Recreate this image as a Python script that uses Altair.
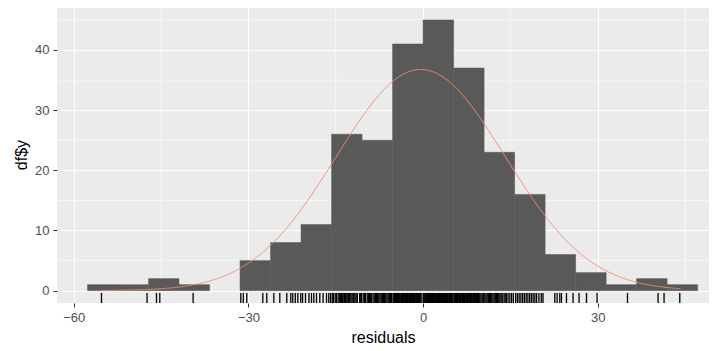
import altair as alt
import numpy as np
import pandas as pd

# ---- data ----
COUNTS = [1, 1, 2, 1, 0, 5, 8, 11, 26, 25, 41, 45, 37, 23, 16, 6, 3, 1, 2, 1]
BIN_LO = -57.64
BIN_W = 5.24

RUG = [
    -55.24,
    -47.41,
    -45.79, -45.22,
    -39.5,
    -31.31, -30.88, -30.28, -27.53, -26.85,
    -25.64, -24.61, -23.41, -22.72, -22.38, -21.95, -21.52, -21.01,
    -20.7, -20.2, -19.6, -19.17, -18.77, -18.31, -17.74, -17.18, -16.59, -16.2, -15.9,
    -15.6, -15.4, -15.1, -14.9, -14.6, -14.4, -14.2, -14.0, -13.8, -13.6, -13.5, -13.3,
    -13.1, -12.9, -12.8, -12.6, -12.4, -12.2, -12.0, -11.9, -11.7, -11.5, -11.3, -10.9,
    -10.7, -10.6,
    -10.3, -10.1, -9.9, -9.6, -9.4, -9.2, -9.0, -8.9, -8.6, -8.4, -8.2, -8.0, -7.8, -7.6,
    -7.4, -7.2, -7.0, -6.8, -6.6, -6.4, -6.2, -6.0, -5.8, -5.6, -5.4,
    -5.15, -5.0, -4.9, -4.8, -4.7, -4.55, -4.4, -4.3, -4.2, -4.1, -3.95, -3.8, -3.7, -3.6,
    -3.5, -3.4, -3.25, -3.1, -3.0, -2.9, -2.8, -2.7, -2.55, -2.4, -2.3, -2.2, -2.1, -1.95,
    -1.8, -1.7, -1.6, -1.5, -1.4, -1.25, -1.1, -1.0, -0.9, -0.75, -0.6, -0.4, -0.2,
    0.1, 0.2, 0.35, 0.5, 0.6, 0.7, 0.8, 0.95, 1.05, 1.15, 1.3, 1.4, 1.5, 1.6, 1.75, 1.85,
    1.95, 2.05, 2.2, 2.3, 2.4, 2.5, 2.65, 2.75, 2.85, 2.95, 3.1, 3.2, 3.3, 3.4, 3.55, 3.65,
    3.75, 3.85, 4.0, 4.1, 4.2, 4.3, 4.45, 4.55, 4.65, 4.75, 4.9, 5.0, 5.15,
    5.35, 5.5, 5.6, 5.75, 5.9, 6.0, 6.15, 6.3, 6.4, 6.55, 6.7, 6.8, 6.95, 7.1, 7.2, 7.35,
    7.5, 7.6, 7.75, 7.9, 8.0, 8.15, 8.3, 8.4, 8.55, 8.7, 8.8, 8.95, 9.1, 9.2, 9.35, 9.5,
    9.6, 9.75, 9.95, 10.15, 10.35,
    10.6, 10.8, 11.0, 11.2, 11.4, 11.6, 11.8, 12.0, 12.2, 12.4, 12.6, 12.8, 13.0, 13.2,
    13.4, 13.6, 13.9, 14.1, 14.3, 14.6, 14.9, 15.2, 15.5,
    15.9, 16.2, 16.5, 16.8, 17.1, 17.4, 17.7, 18.0, 18.3, 18.6, 18.9, 19.2, 19.5, 19.9,
    20.3, 20.6,
    22.62, 23.02, 23.48, 23.77, 24.63, 25.76,
    26.79, 28.07, 29.89,
    35.11,
    40.36, 41.39,
    44.09,
]

# fitted normal curve parameters
MU = -0.4
SD = 14.5
N_OBS = 255

X_TICKS = [-60, -30, 0, 30]
Y_TICKS = [0, 10, 20, 30, 40]
X_MINOR = [-45, -15, 15, 45]
Y_MINOR = [5, 15, 25, 35, 45]

X_DOMAIN = [-62.88, 49.11]
Y_DOMAIN = [-2.05, 47.31]

# ---- tables ----
edges = BIN_LO + BIN_W * np.arange(len(COUNTS) + 1)
hist = pd.DataFrame({"x0": edges[:-1], "x1": edges[1:], "count": COUNTS})
hist = hist[hist["count"] > 0]
rug = pd.DataFrame({"r": RUG})
xminor = pd.DataFrame({"v": X_MINOR})
yminor = pd.DataFrame({"v": Y_MINOR})

xs = alt.Scale(domain=X_DOMAIN, nice=False, zero=False)
ys = alt.Scale(domain=Y_DOMAIN, nice=False, zero=False)
x_axis = alt.Axis(values=X_TICKS, title="residuals", grid=True)
y_axis = alt.Axis(values=Y_TICKS, title="df$y", grid=True)

minor_x = alt.Chart(xminor).mark_rule(color="white", strokeWidth=0.6).encode(
    x=alt.X("v:Q", scale=xs, axis=x_axis)
)
minor_y = alt.Chart(yminor).mark_rule(color="white", strokeWidth=0.6).encode(
    y=alt.Y("v:Q", scale=ys, axis=y_axis)
)

bars = alt.Chart(hist).mark_rect(
    color="#595959", stroke="#595959", strokeWidth=0.5
).encode(
    x=alt.X("x0:Q", scale=xs, axis=x_axis),
    x2="x1:Q",
    y=alt.Y("count:Q", scale=ys, axis=y_axis),
    y2=alt.datum(0),
)

curve = alt.Chart(
    alt.sequence(min(RUG), max(RUG) + 0.1, 0.1, as_="x")
).transform_calculate(
    d=f"{N_OBS}*{BIN_W}*exp(-pow(datum.x-({MU}),2)/(2*{SD}*{SD}))/({SD}*sqrt(2*PI))"
).mark_line(color="#F48E70", strokeWidth=1).encode(
    x=alt.X("x:Q", scale=xs, axis=x_axis),
    y=alt.Y("d:Q", scale=ys, axis=y_axis),
)

rugs = alt.Chart(rug).mark_rule(color="black", strokeWidth=1.3).encode(
    x=alt.X("r:Q", scale=xs, axis=x_axis),
    y=alt.value(287),
    y2=alt.value(297),
)

chart = alt.layer(minor_x, minor_y, bars, curve, rugs).properties(
    width=652,
    height=297,
    autosize=alt.AutoSizeParams(type="none"),
    padding={"left": 49, "top": -2, "right": 0, "bottom": 48},
).configure_view(
    fill="#EBEBEB", stroke=None
).configure_axis(
    gridColor="white",
    gridWidth=1.1,
    domain=False,
    tickColor="#333333",
    tickSize=4,
    tickWidth=1,
    labelColor="#4D4D4D",
    labelFont="Liberation Sans",
    labelFontSize=13,
    labelPadding=4,
    titleFont="Liberation Sans",
    titleFontSize=16,
    titleFontWeight="normal",
    titleColor="black",
    titlePadding=5,
)

chart.save("out.html", embed_options={"renderer": "svg", "actions": False})
